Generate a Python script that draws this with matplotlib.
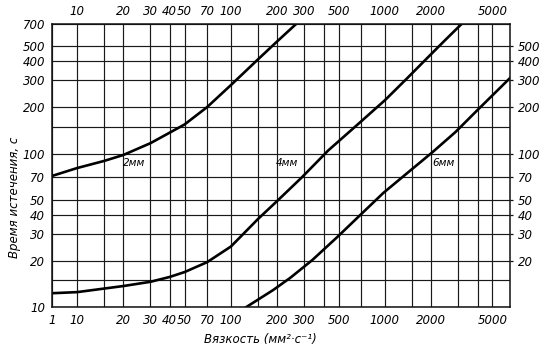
import numpy as np
import matplotlib
matplotlib.use("Agg")
import matplotlib.pyplot as plt

# ---- data ----
visc_2mm = [1, 10, 15, 20, 30, 40, 50, 70, 100, 150, 200, 265]
time_2mm = [71.5, 80.5, 89.6, 98, 117, 137, 155, 201, 280, 412, 540, 700]

visc_4mm = [1, 10, 20, 30, 40, 50, 70, 100, 150, 203, 290, 429, 671, 1006, 1400, 1916, 2470, 3150]
time_4mm = [12.3, 12.5, 13.7, 14.6, 15.7, 16.9, 19.6, 24.8, 37.5, 49.9, 70.3, 105, 156, 224, 311, 427, 551, 700]

visc_6mm = [126, 188, 243, 337, 491, 692, 977, 1400, 2034, 2870, 3990, 6500]
time_6mm = [10, 12.9, 15.5, 20.2, 28.6, 39.8, 55.4, 74.8, 102, 138, 192, 311]

curve_names = ["2мм", "4мм", "6мм"]

x_grid = [10, 15, 20, 30, 40, 50, 70, 100, 150, 200, 300, 400, 500, 700,
          1000, 1500, 2000, 3000, 4000, 5000]
x_bottom_ticks = [1, 10, 20, 30, 40, 50, 70, 100, 200, 300, 500, 1000, 2000, 5000]
x_top_ticks = [10, 20, 30, 40, 50, 70, 100, 200, 300, 500, 1000, 2000, 5000]
y_grid = [15, 20, 30, 40, 50, 70, 100, 150, 200, 300, 400, 500]
y_left_ticks = [10, 20, 30, 40, 50, 70, 100, 200, 300, 400, 500, 700]
y_right_ticks = [20, 30, 40, 50, 70, 100, 200, 300, 400, 500]

# ---- custom viscosity scale: log above 10, compressed 1..10 ----
K = 0.1626

def fwd(x):
    x = np.asarray(x, dtype=float)
    lx = np.log10(np.clip(x, 1e-12, None))
    return np.where(lx >= 1, lx, 1 - K * (1 - lx))

def inv(u):
    u = np.asarray(u, dtype=float)
    with np.errstate(over="ignore", invalid="ignore"):
        return np.where(u >= 1, 10.0 ** u, 10.0 ** (1 - (1 - u) / K))

FAM = ["Liberation Sans Narrow", "DejaVu Sans"]
FONT = dict(family=FAM, style="italic", size=8.5)

fig = plt.figure(figsize=(5.4, 3.53), dpi=100)
pos = [52 / 540, 1 - 307 / 353, (510 - 52) / 540, (307 - 24) / 353]
ax = fig.add_axes(pos)

ax.set_xscale("function", functions=(fwd, inv))
ax.set_yscale("log")
ax.set_xlim(1, 6500)
ax.set_ylim(10, 700)

ax.set_xticks(x_bottom_ticks, [str(v) for v in x_bottom_ticks])
ax.set_xticks(x_grid, minor=True)
ax.set_yticks(y_left_ticks, [str(v) for v in y_left_ticks])
ax.set_yticks(y_grid, minor=True)
ax.xaxis.set_minor_formatter(matplotlib.ticker.NullFormatter())
ax.yaxis.set_minor_formatter(matplotlib.ticker.NullFormatter())

ax.grid(which="both", color="#1a1a1a", lw=0.85)
ax.set_axisbelow(True)
ax.tick_params(which="both", length=0, pad=5)
for lab in ax.get_xticklabels() + ax.get_yticklabels():
    lab.set(**FONT)
for sp in ax.spines.values():
    sp.set_linewidth(1.1)
    sp.set_color("#111111")

for xs, ys in [(visc_2mm, time_2mm), (visc_4mm, time_4mm), (visc_6mm, time_6mm)]:
    ax.plot(xs, ys, color="black", lw=1.9, solid_joinstyle="round", clip_on=True)

small = {**FONT, "size": 7.5}
ax.text(20, 93.5, curve_names[0], ha="left", va="top", **small)
ax.text(197, 93.5, curve_names[1], ha="left", va="top", **small)
ax.text(2030, 93.5, curve_names[2], ha="left", va="top", **small)

# ---- top and right labels on an overlay axes ----
axt = fig.add_axes(pos, frameon=False)
axt.set_xscale("function", functions=(fwd, inv))
axt.set_yscale("log")
axt.set_xlim(1, 6500)
axt.set_ylim(10, 700)
axt.xaxis.tick_top()
axt.yaxis.tick_right()
axt.set_xticks(x_top_ticks, [str(v) for v in x_top_ticks])
axt.set_yticks(y_right_ticks, [str(v) for v in y_right_ticks])
axt.set_xticks([], minor=True)
axt.set_yticks([], minor=True)
axt.tick_params(axis="x", length=0, pad=4)
axt.tick_params(axis="y", length=2.5, width=0.9, pad=3, color="#111111")
for lab in axt.get_xticklabels() + axt.get_yticklabels():
    lab.set(**FONT)
axt.patch.set_visible(False)

fig.text(260 / 540, 1 - 340 / 353, "Вязкость (мм²·с⁻¹)", ha="center", va="center", **FONT)
fig.text(15 / 540, 1 - 197 / 353, "Время истечения, с", ha="center", va="center",
         rotation=90, **FONT)

fig.savefig("out.png", dpi=100, facecolor="white")
